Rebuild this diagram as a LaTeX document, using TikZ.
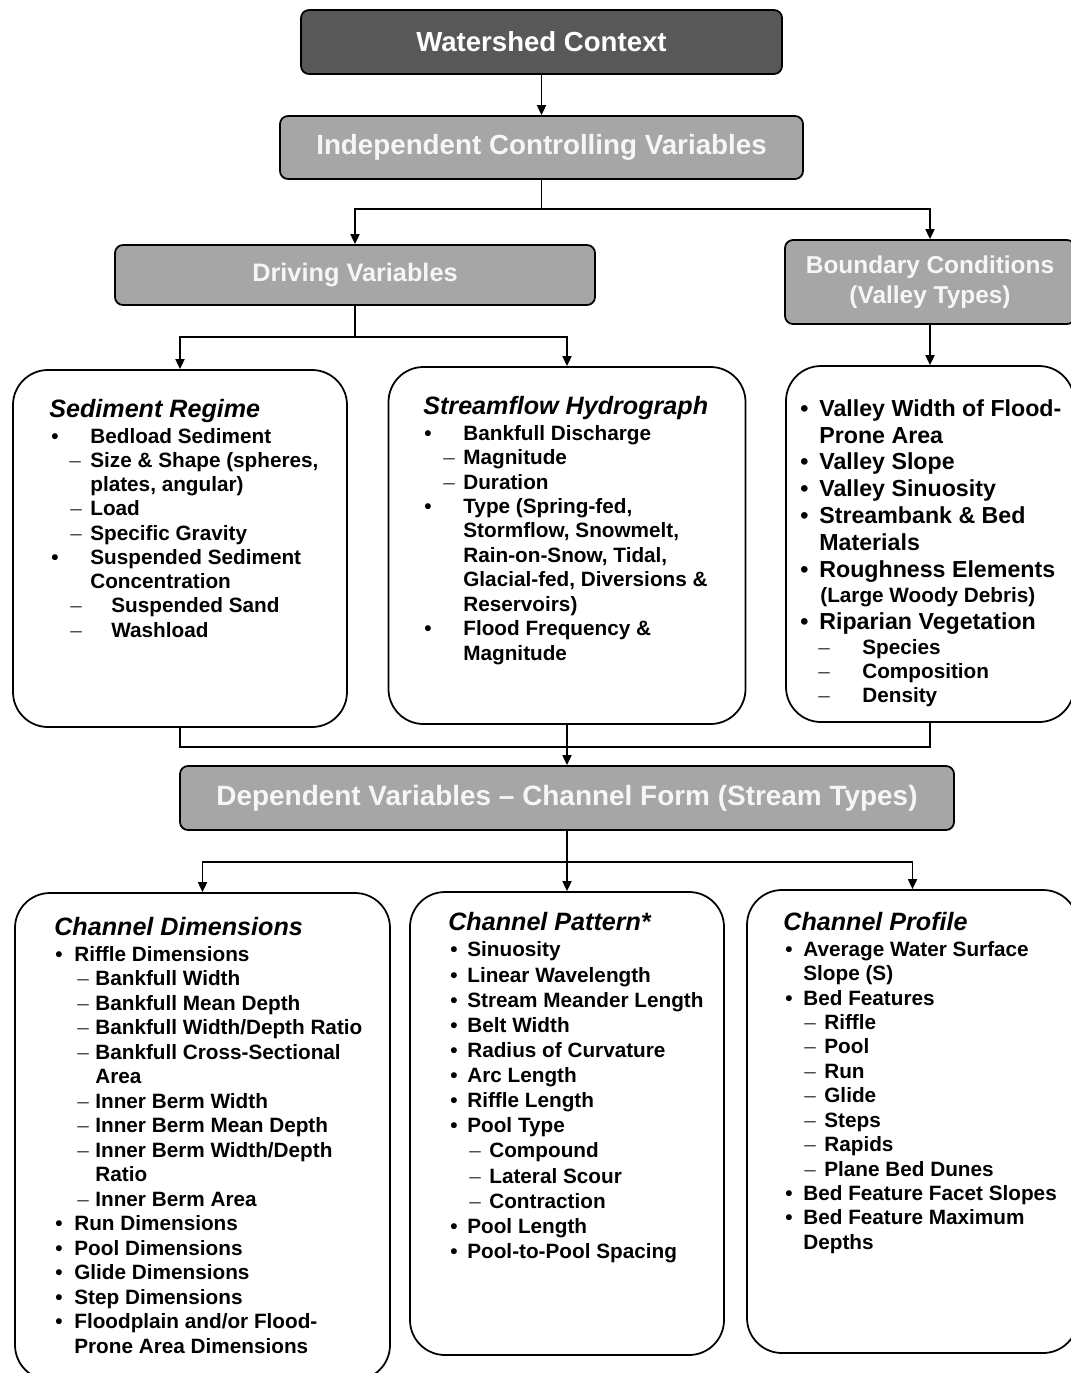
\documentclass[tikz,border=0pt]{standalone}
\usepackage{fontspec}
\setmainfont{Liberation Sans}
\usetikzlibrary{arrows.meta}

\definecolor{hdrgray}{RGB}{166,166,166}
\definecolor{wsgray}{RGB}{88,88,88}
\definecolor{hdrtext}{RGB}{246,246,246}
\definecolor{dashgray}{RGB}{70,70,70}

% one pixel of the layout grid
\newlength\pxu
\setlength\pxu{0.02cm}
\newcommand{\lmark}[3]{\hspace*{#1\pxu}\makebox[#2\pxu][l]{#3}}
\newcommand{\lind}[1]{\hspace*{#1\pxu}}
\newcommand{\boxtitle}[1]{{\fontsize{14.3}{16}\selectfont\bfseries\itshape #1}}
\newcommand{\vsmall}{\fontsize{11.8}{14}\selectfont}
\newcommand{\ldash}{{\mdseries\color{dashgray}–}}

\begin{document}
\begin{tikzpicture}[x=0.02cm, y=-0.02cm,
  boxsize/.style 2 args={minimum width=#1*0.02cm, minimum height=#2*0.02cm},
  hdr/.style={draw=black, line width=1pt, rounded corners=0.16cm, fill=hdrgray,
    text=hdrtext, inner sep=0, font=\fontsize{#1}{17}\selectfont\bfseries},
  lbox/.style={draw=black, line width=1pt, rounded corners=0.7cm, inner sep=0},
  lst/.style={align=left, inner sep=0, anchor=north west,
    font=\fontsize{11.8}{#1}\selectfont\bfseries},
  link/.style={line width=1pt},
  conn/.style={link, -{Triangle[length=2mm, width=1.8mm]}}]
\useasboundingbox (0,0) rectangle (1071,1373);

% Header boxes
\node[hdr=15.7, fill=wsgray, text=white, boxsize={481}{64}] (ws) at (541.5,42) {Watershed Context};
\node[hdr=15.8, boxsize={523}{63}] (icv) at (541.5,147.5) {Independent Controlling Variables};
\node[hdr=14.4, boxsize={480}{60}] (drv) at (355,275) {Driving Variables};
\node[hdr=13.9, boxsize={290}{84}, align=center] (bnd) at (930,282) {Boundary Conditions\\(Valley Types)};
\node[hdr=15.9, boxsize={774}{64}] (dep) at (567,798) {Dependent Variables – Channel Form (Stream Types)};

% List boxes
\node[lbox, boxsize={334}{357}] (sed) at (180,548.5) {};
\node[lbox, boxsize={357}{357}] (sfh) at (567,545.5) {};
\node[lbox, boxsize={288}{356}] (val) at (930,544) {};
\node[lbox, boxsize={375}{487}] (cdim) at (202.5,1136.5) {};
\node[lbox, boxsize={314}{463}] (cpat) at (567,1123.5) {};
\node[lbox, boxsize={331}{463}] (cpro) at (912.5,1121.5) {};

% List texts
\node[lst=13.8] (sedtxt) at (49,399) {\boxtitle{Sediment Regime}\\[0.7pt]
\lmark{2}{39}{•}Bedload Sediment\\
\lmark{20}{21}{\ldash}Size \& Shape (spheres,\\
\lind{41}plates, angular)\\
\lmark{21}{20}{\ldash}Load\\
\lmark{21}{20}{\ldash}Specific Gravity\\
\lmark{2}{39}{•}Suspended Sediment\\
\lind{41}Concentration\\
\lmark{21}{41}{\ldash}Suspended Sand\\
\lmark{21}{41}{\ldash}Washload};

\node[lst=13.9] (sfhtxt) at (423,396) {\boxtitle{Streamflow Hydrograph}\\[0.7pt]
\lmark{1}{39}{•}Bankfull Discharge\\
\lmark{20}{20}{\ldash}Magnitude\\
\lmark{20}{20}{\ldash}Duration\\
\lmark{1}{39}{•}Type (Spring-fed,\\
\lind{40}Stormflow, Snowmelt,\\
\lind{40}Rain-on-Snow, Tidal,\\
\lind{40}Glacial-fed, Diversions \&\\
\lind{40}Reservoirs)\\
\lmark{1}{39}{•}Flood Frequency \&\\
\lind{40}Magnitude};

\node[lst=15.3, font=\fontsize{13.2}{15.3}\selectfont\bfseries] (valtxt) at (800,399) {\lmark{0}{19}{•}Valley Width of Flood-\\
\lind{19}Prone Area\\
\lmark{0}{19}{•}Valley Slope\\
\lmark{0}{19}{•}Valley Sinuosity\\
\lmark{0}{19}{•}Streambank \& Bed\\
\lind{19}Materials\\
\lmark{0}{19}{•}Roughness Elements\\[-1.2pt]
\vsmall\lind{20}(Large Woody Debris)\\
\lmark{0}{19}{•}Riparian Vegetation\\[-0.8pt]
\vsmall\lmark{18}{44}{\ldash}Species\\[-1.7pt]
\vsmall\lmark{18}{44}{\ldash}Composition\\[-1.4pt]
\vsmall\lmark{18}{44}{\ldash}Density};

\node[lst=13.95] (cdimtxt) at (54,917) {\boxtitle{Channel Dimensions}\\[0.7pt]
\lmark{1}{19}{•}Riffle Dimensions\\
\lmark{23}{18}{\ldash}Bankfull Width\\
\lmark{23}{18}{\ldash}Bankfull Mean Depth\\
\lmark{23}{18}{\ldash}Bankfull Width/Depth Ratio\\
\lmark{23}{18}{\ldash}Bankfull Cross-Sectional\\
\lind{41}Area\\
\lmark{23}{18}{\ldash}Inner Berm Width\\
\lmark{23}{18}{\ldash}Inner Berm Mean Depth\\
\lmark{23}{18}{\ldash}Inner Berm Width/Depth\\
\lind{41}Ratio\\
\lmark{23}{18}{\ldash}Inner Berm Area\\
\lmark{1}{19}{•}Run Dimensions\\
\lmark{1}{19}{•}Pool Dimensions\\
\lmark{1}{19}{•}Glide Dimensions\\
\lmark{1}{19}{•}Step Dimensions\\
\lmark{1}{19}{•}Floodplain and/or Flood-\\
\lind{20}Prone Area Dimensions};

\node[lst=14.3] (cpattxt) at (448,912) {\boxtitle{Channel Pattern*}\\[0.7pt]
\lmark{2}{17}{•}Sinuosity\\
\lmark{2}{17}{•}Linear Wavelength\\
\lmark{2}{17}{•}Stream Meander Length\\
\lmark{2}{17}{•}Belt Width\\
\lmark{2}{17}{•}Radius of Curvature\\
\lmark{2}{17}{•}Arc Length\\
\lmark{2}{17}{•}Riffle Length\\
\lmark{2}{17}{•}Pool Type\\
\lmark{21}{20}{\ldash}Compound\\
\lmark{21}{20}{\ldash}Lateral Scour\\
\lmark{21}{20}{\ldash}Contraction\\
\lmark{2}{17}{•}Pool Length\\
\lmark{2}{17}{•}Pool-to-Pool Spacing};

\node[lst=13.9] (cprotxt) at (783,912) {\boxtitle{Channel Profile}\\[0.7pt]
\lmark{2}{18}{•}Average Water Surface\\
\lind{20}Slope (S)\\
\lmark{2}{18}{•}Bed Features\\
\lmark{21}{20}{\ldash}Riffle\\
\lmark{21}{20}{\ldash}Pool\\
\lmark{21}{20}{\ldash}Run\\
\lmark{21}{20}{\ldash}Glide\\
\lmark{21}{20}{\ldash}Steps\\
\lmark{21}{20}{\ldash}Rapids\\
\lmark{21}{20}{\ldash}Plane Bed Dunes\\
\lmark{2}{18}{•}Bed Feature Facet Slopes\\
\lmark{2}{18}{•}Bed Feature Maximum\\
\lind{20}Depths};

% Connectors
\coordinate (j1) at (541.5,209);
\coordinate (j2) at (355,337);
\coordinate (j3) at (567,747);
\coordinate (j4) at (567,862);
\draw[conn] (ws) -- (icv);
\draw[link] (icv) -- (j1);
\draw[conn] (j1) -| (drv.north);
\draw[conn] (j1) -| (bnd.north);
\draw[link] (drv) -- (j2);
\draw[conn] (j2) -| (sed.north);
\draw[conn] (j2) -| (sfh.north);
\draw[conn] (bnd) -- (val);
\draw[link] (sed.south) |- (j3) -| (val.south);
\draw[conn] (sfh) -- (dep);
\draw[link] (dep) -- (j4);
\draw[conn] (j4) -| (cdim.north);
\draw[conn] (j4) -- (cpat);
\draw[conn] (j4) -| (cpro.north);

\end{tikzpicture}
\end{document}
